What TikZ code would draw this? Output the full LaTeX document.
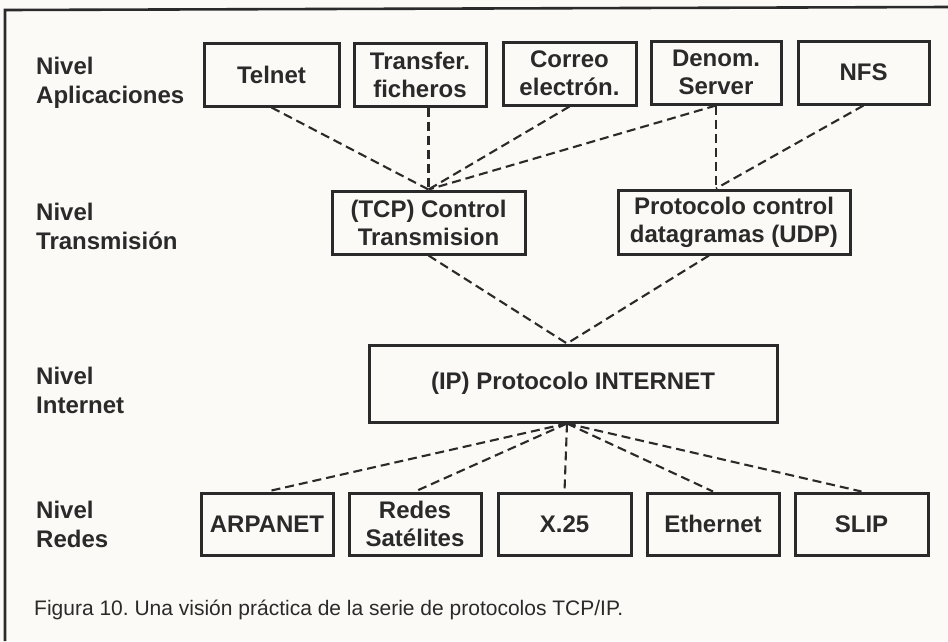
\documentclass[tikz,border=0pt]{standalone}
\usepackage{fontspec}
\setmainfont{Liberation Sans}
\usetikzlibrary{calc}
\definecolor{ink}{RGB}{42,42,42}
\definecolor{paper}{RGB}{251,250,246}
\frenchspacing
\begin{document}
\begin{tikzpicture}[x=1pt,y=-1pt,
  box/.style 2 args={draw=ink, line width=3pt, inner sep=0pt, align=center,
    minimum width=#1pt, minimum height=#2pt,
    font=\fontsize{24}{28}\selectfont\bfseries, text=ink},
  lvl/.style={anchor=base west, align=left, inner sep=0pt,
    font=\fontsize{24}{29}\selectfont\bfseries, text=ink},
  link/.style={draw=ink, line width=2.1pt, dash pattern=on 9pt off 5pt},
]
% page and frame
\fill[paper] (0,0) rectangle (948,641);
\useasboundingbox (0,0) rectangle (948,641);
\draw[ink, line width=2.6pt] (5,641) -- (5,10) -- (948,7);

% level labels (base anchor sits on the last line)
\node[lvl] (lapp) at (36,103) {Nivel\\Aplicaciones};
\node[lvl] (ltra) at (36,249) {Nivel\\Transmisión};
\node[lvl] (lint) at (36,413) {Nivel\\Internet};
\node[lvl] (lred) at (36,547) {Nivel\\Redes};

% application layer
\node[box={135}{63}] (telnet)   at (271.5,74.5) {Telnet};
\node[box={132}{63}] (transfer) at (420,74.5)   {Transfer.\\ficheros};
\node[box={133}{63}] (correo)   at (569.5,73.5) {Correo\\electrón.};
\node[box={130}{63}] (denom)    at (716,72.5)   {Denom.\\Server};
\node[box={131}{63}] (nfs)      at (863.5,72.5) {NFS};

% transport layer
\node[box={193}{63}] (tcp) at (428.5,222.5) {(TCP) Control\\Transmision};
\node[box={232}{64}] (udp) at (734,222)     {Protocolo control\\datagramas (UDP)};

% internet layer
\node[box={408}{77}] (ip) at (573,383.5) {(IP) Protocolo INTERNET};

% network layer
\node[box={132}{62}] (arpanet)  at (267,524)   {ARPANET};
\node[box={132}{62}] (redes)    at (415,524)   {Redes\\Satélites};
\node[box={133}{62}] (x25)      at (564.5,524) {X.25};
\node[box={132}{62}] (ethernet) at (713,524)   {Ethernet};
\node[box={133}{62}] (slip)     at (861.5,524) {SLIP};

% connection points
\coordinate (udpin)  at (denom.south |- udp.north);
\coordinate (udpout) at ($(udp.south)+(-25,0)$);
\coordinate (ipin)   at ($(ip.north)+(-6,0)$);
\coordinate (ipout)  at ($(ip.south)+(-6,0)$);

% application -> transport
\draw[link] (telnet.south) -- (tcp.north);
\draw[link] (transfer.south -| tcp.north) -- (tcp.north);
\draw[link] (correo.south) -- (tcp.north);
\draw[link] (denom.south) -- (tcp.north);
\draw[link] (denom.south) -- (udpin);
\draw[link] (nfs.south) -- (udpin);

% transport -> internet
\draw[link] (tcp.south) -- (ipin);
\draw[link] (udpout) -- (ipin);

% internet -> networks
\draw[link] (ipout) -- (arpanet.north);
\draw[link] (ipout) -- (redes.north);
\draw[link] (ipout) -- (x25.north);
\draw[link] (ipout) -- (ethernet.north);
\draw[link] (ipout) -- (slip.north);

% caption
\node[anchor=base west, inner sep=0pt, font=\fontsize{21}{25}\selectfont, text=ink]
  (caption) at (34,615) {Figura 10. Una visión práctica de la serie de protocolos TCP/IP.};
\end{tikzpicture}
\end{document}
